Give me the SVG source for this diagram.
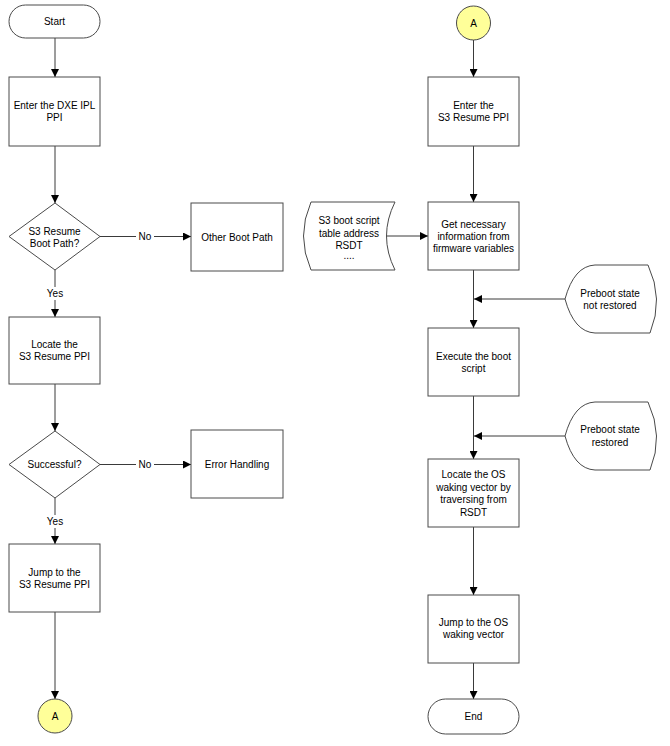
<svg xmlns="http://www.w3.org/2000/svg" width="670" height="746" viewBox="0 0 670 746">
<defs>
<style>
.n{fill:#ffffff;stroke:#4a4a4a;stroke-width:1}
.c{fill:#ffff99;stroke:#4a4a4a;stroke-width:1}
.e{fill:none;stroke:#3a3a3a;stroke-width:1}
.t{font-family:"Liberation Sans",Arial,sans-serif;font-size:10px;fill:#000;text-anchor:middle}
.bg{fill:#ffffff;stroke:none}
</style>
<marker id="ah" markerUnits="userSpaceOnUse" markerWidth="8" markerHeight="8" refX="8" refY="4" orient="auto">
<path d="M0,0 L8,4 L0,8 Z" fill="#000"/>
</marker>
</defs>
<rect x="0" y="0" width="670" height="746" fill="#ffffff"/>

<g id="connectors">
<line class="e" x1="55" y1="38" x2="55" y2="77" marker-end="url(#ah)"/>
<line class="e" x1="55" y1="146" x2="55" y2="203" marker-end="url(#ah)"/>
<line class="e" x1="100" y1="236.5" x2="191" y2="236.5" marker-end="url(#ah)"/>
<rect class="bg" x="136" y="230" width="18" height="13"/>
<text class="t" x="145" y="240">No</text>
<line class="e" x1="55" y1="270" x2="55" y2="317" marker-end="url(#ah)"/>
<rect class="bg" x="44" y="287" width="22" height="13"/>
<text class="t" x="55" y="296.5">Yes</text>
<line class="e" x1="55" y1="384" x2="55" y2="431" marker-end="url(#ah)"/>
<line class="e" x1="100" y1="464.5" x2="191" y2="464.5" marker-end="url(#ah)"/>
<rect class="bg" x="136" y="458" width="18" height="13"/>
<text class="t" x="145" y="468">No</text>
<line class="e" x1="55" y1="498" x2="55" y2="544" marker-end="url(#ah)"/>
<rect class="bg" x="44" y="515" width="22" height="13"/>
<text class="t" x="55" y="524.5">Yes</text>
<line class="e" x1="55" y1="612" x2="55" y2="699" marker-end="url(#ah)"/>

<line class="e" x1="473.5" y1="40" x2="473.5" y2="77" marker-end="url(#ah)"/>
<line class="e" x1="473.5" y1="146" x2="473.5" y2="202" marker-end="url(#ah)"/>
<line class="e" x1="386.5" y1="236" x2="428" y2="236" marker-end="url(#ah)"/>
<line class="e" x1="473.5" y1="270" x2="473.5" y2="328" marker-end="url(#ah)"/>
<line class="e" x1="565" y1="299" x2="474" y2="299" marker-end="url(#ah)"/>
<line class="e" x1="473.5" y1="396" x2="473.5" y2="459" marker-end="url(#ah)"/>
<line class="e" x1="565" y1="436" x2="474" y2="436" marker-end="url(#ah)"/>
<line class="e" x1="473.5" y1="527" x2="473.5" y2="595" marker-end="url(#ah)"/>
<line class="e" x1="473.5" y1="663" x2="473.5" y2="699" marker-end="url(#ah)"/>
</g>

<g id="start">
<rect class="n" x="9" y="5" width="91" height="33" rx="16.5"/>
<text class="t" x="54.5" y="25">Start</text>
</g>
<g id="enter-dxe">
<rect class="n" x="9" y="77" width="91" height="69"/>
<text class="t" x="54.5" y="109">Enter the DXE IPL</text>
<text class="t" x="54.5" y="121">PPI</text>
</g>
<g id="s3-boot-path">
<polygon class="n" points="55,203 100,236.5 55,270 9,236.5"/>
<text class="t" x="54.5" y="234.5">S3 Resume</text>
<text class="t" x="54.5" y="246.5">Boot Path?</text>
</g>
<g id="other-boot-path">
<rect class="n" x="191" y="203" width="92" height="68"/>
<text class="t" x="237" y="240.5">Other Boot Path</text>
</g>
<g id="locate-s3">
<rect class="n" x="9" y="317" width="91" height="67"/>
<text class="t" x="54.5" y="347.5">Locate the</text>
<text class="t" x="54.5" y="359.5">S3 Resume PPI</text>
</g>
<g id="successful">
<polygon class="n" points="55,431 100,464.5 55,498 9,464.5"/>
<text class="t" x="54.5" y="468">Successful?</text>
</g>
<g id="error-handling">
<rect class="n" x="191" y="430" width="92" height="68"/>
<text class="t" x="237" y="467.5">Error Handling</text>
</g>
<g id="jump-s3">
<rect class="n" x="9" y="544" width="91" height="68"/>
<text class="t" x="54.5" y="575.5">Jump to the</text>
<text class="t" x="54.5" y="587.5">S3 Resume PPI</text>
</g>
<g id="connector-a-out">
<circle class="c" cx="55" cy="716" r="17"/>
<text class="t" x="55" y="719.5">A</text>
</g>

<g id="connector-a-in">
<circle class="c" cx="473.5" cy="23" r="17"/>
<text class="t" x="473.5" y="26.5">A</text>
</g>
<g id="enter-s3">
<rect class="n" x="428" y="77" width="91" height="69"/>
<text class="t" x="473.5" y="109">Enter the</text>
<text class="t" x="473.5" y="121">S3 Resume PPI</text>
</g>
<g id="get-info">
<rect class="n" x="428" y="202" width="91" height="68"/>
<text class="t" x="473.5" y="227.5">Get necessary</text>
<text class="t" x="473.5" y="239.5">information from</text>
<text class="t" x="473.5" y="251.5">firmware variables</text>
</g>
<g id="stored-data">
<path class="n" d="M311,202 L395,202 Q378,236 395,270 L311,270 Q296,236 311,202 Z"/>
<text class="t" x="349" y="223.5">S3 boot script</text>
<text class="t" x="349" y="236.5">table address</text>
<text class="t" x="349" y="248.5">RSDT</text>
<text class="t" x="349" y="259">....</text>
</g>
<g id="preboot-not-restored">
<path class="n" d="M565,299 Q574,266 595,265 L648,265 Q664,299 650,333 L595,333 Q574,332 565,299 Z"/>
<text class="t" x="610" y="296.5">Preboot state</text>
<text class="t" x="610" y="308.5">not restored</text>
</g>
<g id="execute-script">
<rect class="n" x="428" y="328" width="91" height="68"/>
<text class="t" x="473.5" y="359.5">Execute the boot</text>
<text class="t" x="473.5" y="371.5">script</text>
</g>
<g id="preboot-restored">
<path class="n" d="M565,436 Q574,403 595,402 L648,402 Q664,436 650,470 L595,470 Q574,469 565,436 Z"/>
<text class="t" x="610" y="432.5">Preboot state</text>
<text class="t" x="610" y="445.5">restored</text>
</g>
<g id="locate-os">
<rect class="n" x="428" y="459" width="91" height="68"/>
<text class="t" x="473.5" y="478">Locate the OS</text>
<text class="t" x="473.5" y="490.5">waking vector by</text>
<text class="t" x="473.5" y="503">traversing from</text>
<text class="t" x="473.5" y="515.5">RSDT</text>
</g>
<g id="jump-os">
<rect class="n" x="428" y="595" width="91" height="68"/>
<text class="t" x="473.5" y="625.5">Jump to the OS</text>
<text class="t" x="473.5" y="638">waking vector</text>
</g>
<g id="end">
<rect class="n" x="428" y="699" width="91" height="35" rx="17.5"/>
<text class="t" x="473.5" y="719.5">End</text>
</g>
</svg>
